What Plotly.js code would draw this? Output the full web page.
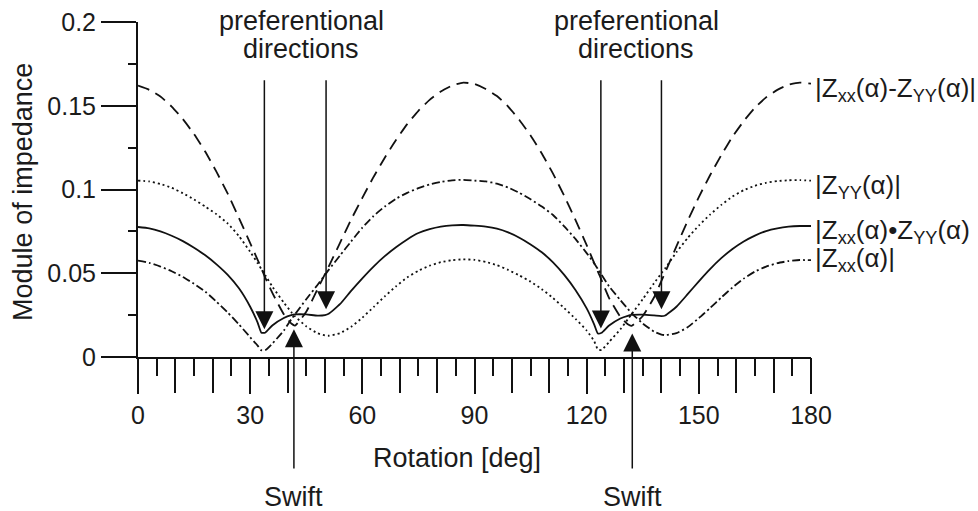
<!DOCTYPE html>
<html>
<head>
<meta charset="utf-8">
<script src="https://cdn.plot.ly/plotly-3.0.1.min.js"></script>
<style>
  html, body { margin: 0; padding: 0; background: #ffffff; }
  #chart { width: 978px; height: 511px; }
</style>
</head>
<body>
<div id="chart"></div>
<script>
// Rotation angle of the impedance tensor, degrees
const rotation = [
  0, 3, 6, 9, 12, 15, 18, 21, 24, 27, 30, 32, 33, 34, 36, 39, 41, 42, 45, 48, 50, 51, 54, 57, 60,
  63, 66, 69, 72, 75, 78, 81, 84, 87, 90,
  93, 96, 99, 102, 105, 108, 111, 114, 117, 120, 122, 123, 124, 126, 129, 131, 132, 135, 138, 140,
  141, 144, 147, 150, 153, 156, 159, 162, 165, 168, 171, 174, 177, 180
];

// |Zxx(a) - Zyy(a)|
const zDiff = [
  0.1620, 0.1595, 0.1555, 0.1495, 0.1420, 0.1330, 0.1225, 0.1105, 0.0975, 0.0830, 0.0680, 0.0580,
  0.0530, 0.0475, 0.0380, 0.0255, 0.0200, 0.0188, 0.0270, 0.0405, 0.0495, 0.0540, 0.0680, 0.0820,
  0.0950, 0.1075, 0.1190, 0.1295, 0.1390, 0.1470, 0.1535, 0.1585, 0.1620, 0.1638, 0.1630,
  0.1600, 0.1558, 0.1495, 0.1415, 0.1322, 0.1215, 0.1095, 0.0962, 0.0818, 0.0668, 0.0562, 0.0510,
  0.0458, 0.0352, 0.0240, 0.0195, 0.0186, 0.0245, 0.0355, 0.0455, 0.0505, 0.0660, 0.0812, 0.0955,
  0.1085, 0.1205, 0.1315, 0.1408, 0.1488, 0.1550, 0.1595, 0.1625, 0.1638, 0.1632
];

// |Zyy(a)|
const zYY = [
  0.1053, 0.1048, 0.1033, 0.1010, 0.0978, 0.0940, 0.0898, 0.0852, 0.0797, 0.0722, 0.0628, 0.0560,
  0.0525, 0.0490, 0.0418, 0.0325, 0.0268, 0.0243, 0.0183, 0.0142, 0.0129, 0.0127, 0.0142, 0.0180,
  0.0235, 0.0298, 0.0362, 0.0422, 0.0475, 0.0515, 0.0545, 0.0566, 0.0578, 0.0583, 0.0580,
  0.0568, 0.0548, 0.0520, 0.0487, 0.0450, 0.0405, 0.0352, 0.0292, 0.0228, 0.0158, 0.0095, 0.0045,
  0.0042, 0.0090, 0.0165, 0.0225, 0.0255, 0.0345, 0.0440, 0.0500, 0.0530, 0.0625, 0.0710, 0.0785,
  0.0850, 0.0908, 0.0958, 0.0996, 0.1022, 0.1040, 0.1050, 0.1055, 0.1056, 0.1053
];

// |Zxx(a) * Zyy(a)|
const zProd = [
  0.0776, 0.0768, 0.0750, 0.0724, 0.0692, 0.0652, 0.0607, 0.0553, 0.0490, 0.0410, 0.0300, 0.0205,
  0.0145, 0.0145, 0.0190, 0.0233, 0.0250, 0.0254, 0.0254, 0.0247, 0.0250, 0.0258, 0.0315, 0.0395,
  0.0470, 0.0540, 0.0602, 0.0655, 0.0702, 0.0740, 0.0763, 0.0778, 0.0786, 0.0788, 0.0784,
  0.0778, 0.0766, 0.0744, 0.0712, 0.0672, 0.0625, 0.0565, 0.0490, 0.0400, 0.0290, 0.0195, 0.0140,
  0.0145, 0.0188, 0.0230, 0.0246, 0.0251, 0.0253, 0.0248, 0.0244, 0.0248, 0.0300, 0.0375, 0.0452,
  0.0525, 0.0590, 0.0645, 0.0690, 0.0725, 0.0752, 0.0768, 0.0778, 0.0782, 0.0782
];

// |Zxx(a)|
const zXX = [
  0.0575, 0.0562, 0.0540, 0.0512, 0.0478, 0.0437, 0.0390, 0.0330, 0.0265, 0.0195, 0.0118, 0.0068,
  0.0040, 0.0040, 0.0082, 0.0158, 0.0225, 0.0255, 0.0345, 0.0430, 0.0490, 0.0520, 0.0605, 0.0690,
  0.0772, 0.0842, 0.0898, 0.0945, 0.0980, 0.1008, 0.1030, 0.1045, 0.1055, 0.1058, 0.1053,
  0.1048, 0.1035, 0.1012, 0.0980, 0.0942, 0.0898, 0.0848, 0.0780, 0.0705, 0.0620, 0.0560, 0.0525,
  0.0490, 0.0422, 0.0340, 0.0288, 0.0262, 0.0200, 0.0152, 0.0134, 0.0131, 0.0142, 0.0178, 0.0232,
  0.0292, 0.0355, 0.0415, 0.0468, 0.0510, 0.0540, 0.0560, 0.0573, 0.0579, 0.0578
];

// Curve labels at the right-hand end
const seriesLabels = [
  '|Z<sub>xx</sub>(α)-Z<sub>YY</sub>(α)|',
  '|Z<sub>YY</sub>(α)|',
  '|Z<sub>xx</sub>(α)•Z<sub>YY</sub>(α)',
  '|Z<sub>xx</sub>(α)|'
];
const labelLevels = [0.160, 0.1015, 0.0750, 0.0583];

// Marked directions: [angle, tip value]
const preferentialDirs = [[33.8, 0.0165], [50.3, 0.0285], [123.8, 0.0170], [140.0, 0.0285]];
const swiftDirs = [[41.7, 0.0165], [132.2, 0.0140]];

const FONT = 'Liberation Sans, Arial, Helvetica, sans-serif';
const INK = '#1b1b1b';

function curve(y, dash, xaxis) {
  return {
    type: 'scatter', mode: 'lines', x: rotation, y: y, xaxis: xaxis || 'x',
    line: { color: '#111', width: 1.8, dash: dash, shape: 'spline', smoothing: 0.5 },
    hoverinfo: 'skip', showlegend: false, cliponaxis: false
  };
}

// The solid curve lives on the overlaid tick axis so that axis is always drawn;
// both axes share the same 0-180 range.
const traces = [
  curve(zDiff, '12px,7px'),
  curve(zYY, '2px,3px'),
  curve(zProd, 'solid', 'x2'),
  curve(zXX, '8px,3px,2px,3px')
];

const annotations = [];

preferentialDirs.forEach(([a, v]) => {
  annotations.push({
    x: a, y: v, xref: 'x', yref: 'y', ax: a, ay: 0.1703, axref: 'x', ayref: 'y',
    showarrow: true, arrowhead: 2, arrowsize: 2.4, arrowwidth: 1.5, arrowcolor: '#111',
    standoff: 0, startstandoff: 0
  });
});
swiftDirs.forEach(([a, v]) => {
  annotations.push({
    x: a, y: v, xref: 'x', yref: 'y', ax: a, ay: -0.0716, axref: 'x', ayref: 'y',
    showarrow: true, arrowhead: 2, arrowsize: 2.4, arrowwidth: 1.5, arrowcolor: '#111',
    standoff: 0, startstandoff: 0
  });
  annotations.push({
    x: a, y: -0.418, xref: 'x', yref: 'paper', text: 'Swift', showarrow: false,
    xanchor: 'center', yanchor: 'middle', font: { family: FONT, size: 27, color: INK }
  });
});

[43.6, 133.2].forEach(a => {
  annotations.push({
    x: a, y: 1.003, xref: 'x', yref: 'paper', text: 'preferentional', showarrow: false,
    xanchor: 'center', yanchor: 'middle', font: { family: FONT, size: 27, color: INK }
  });
  annotations.push({
    x: a, y: 0.919, xref: 'x', yref: 'paper', text: 'directions', showarrow: false,
    xanchor: 'center', yanchor: 'middle', font: { family: FONT, size: 27, color: INK }
  });
});

// Right-hand labels sit just past the 180 deg end of the axis
seriesLabels.forEach((t, i) => {
  annotations.push({
    x: 1.003, y: labelLevels[i] / 0.2, xref: 'paper', yref: 'paper', text: t, showarrow: false,
    xanchor: 'left', yanchor: 'middle', height: 25, valign: 'middle',
    font: { family: FONT, size: 26, color: INK }
  });
});

// Axis titles
annotations.push({
  x: 0.4747, y: -0.3015, xref: 'paper', yref: 'paper', text: 'Rotation [deg]', showarrow: false,
  xanchor: 'center', yanchor: 'middle', font: { family: FONT, size: 27, color: INK }
});
annotations.push({
  x: -0.171, y: 0.4925, xref: 'paper', yref: 'paper', text: 'Module of impedance', showarrow: false,
  textangle: -90, xanchor: 'center', yanchor: 'middle', font: { family: FONT, size: 27, color: INK }
});

const tickStyle = { ticks: 'outside', tickwidth: 2, tickcolor: '#111', showgrid: false, zeroline: false };

const layout = {
  width: 978, height: 511,
  margin: { l: 138, r: 167, t: 22, b: 154 },
  paper_bgcolor: '#ffffff', plot_bgcolor: '#ffffff',
  showlegend: false,
  font: { family: FONT, color: INK },
  // Labelled axis: every 30 deg
  xaxis: Object.assign({
    range: [0, 180], tickmode: 'linear', tick0: 0, dtick: 30, ticklen: 35,
    showline: true, linecolor: '#111', linewidth: 2,
    tickfont: { family: FONT, size: 25, color: INK }
  }, tickStyle),
  // Unlabelled ticks every 10 deg with short ones in between
  xaxis2: Object.assign({
    range: [0, 180], overlaying: 'x', anchor: 'y', side: 'bottom',
    tickmode: 'linear', tick0: 0, dtick: 10, ticklen: 35, showticklabels: false, showline: false,
    minor: { tickmode: 'linear', tick0: 0, dtick: 5, ticks: 'outside', ticklen: 18, tickwidth: 2, tickcolor: '#111', showgrid: false }
  }, tickStyle),
  yaxis: Object.assign({
    range: [0, 0.2], tickmode: 'linear', tick0: 0, dtick: 0.05, ticklen: 35,
    showline: true, linecolor: '#111', linewidth: 2,
    tickfont: { family: FONT, size: 25, color: INK },
    minor: { tickmode: 'linear', tick0: 0, dtick: 0.025, ticks: 'outside', ticklen: 8, tickwidth: 2, tickcolor: '#111', showgrid: false }
  }, tickStyle),
  annotations: annotations
};

Plotly.newPlot('chart', traces, layout, { staticPlot: true, displayModeBar: false });
</script>
</body>
</html>
